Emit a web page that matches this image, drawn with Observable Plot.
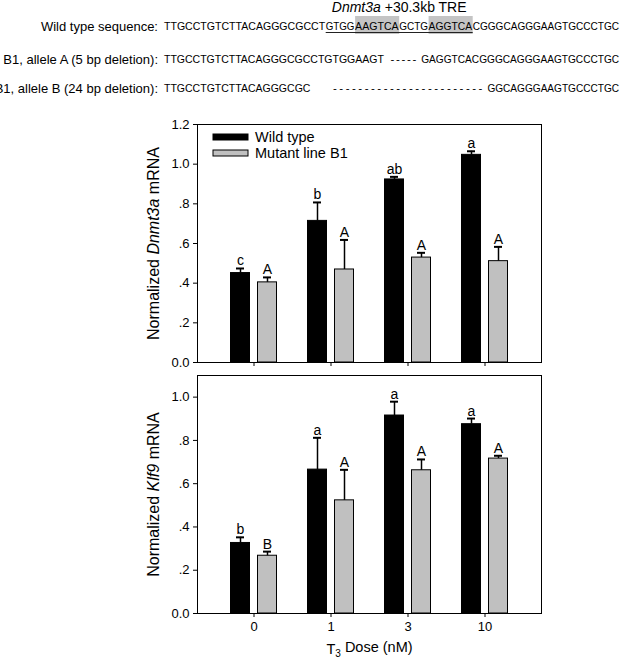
<!DOCTYPE html>
<html>
<head>
<meta charset="utf-8">
<script src="https://cdn.jsdelivr.net/npm/d3@7"></script>
<script src="https://cdn.jsdelivr.net/npm/@observablehq/plot@0.6"></script>
<style>
  body { margin: 0; background: #fff; width: 625px; }
  svg { display: block; }
</style>
</head>
<body>
<div id="chart"></div>
<script>
// ---------- data ----------
const doses = ["0", "1", "3", "10"];
const seriesNames = ["Wild type", "Mutant line B1"];

// Dnmt3a (top panel): means and SEM
const dnmtWT = [0.451, 0.714, 0.923, 1.047];
const dnmtWTErr = [0.023, 0.093, 0.013, 0.018];
const dnmtMut = [0.404, 0.469, 0.529, 0.511];
const dnmtMutErr = [0.025, 0.149, 0.024, 0.072];
const dnmtWTLetters = ["c", "b", "ab", "a"];
const dnmtMutLetters = ["A", "A", "A", "A"];

// Klf9 (bottom panel)
const klfWT = [0.326, 0.665, 0.915, 0.875];
const klfWTErr = [0.026, 0.147, 0.064, 0.026];
const klfMut = [0.267, 0.523, 0.662, 0.716];
const klfMutErr = [0.019, 0.141, 0.050, 0.013];
const klfWTLetters = ["b", "a", "a", "a"];
const klfMutLetters = ["B", "A", "A", "A"];

const yTicksTop = [0, 0.2, 0.4, 0.6, 0.8, 1.0, 1.2];
const yTicksBottom = [0, 0.2, 0.4, 0.6, 0.8, 1.0];

// sequences
const headerGene = "Dnmt3a";
const headerRest = " +30.3kb TRE";
const rowLabels = ["Wild type sequence:", "B1, allele A (5 bp deletion):", "B1, allele B (24 bp deletion):"];
const wtSequence      = "TTGCCTGTCTTACAGGGCGCCTGTGGAAGTCAGCTGAGGTCACGGGCAGGGAAGTGCCCTGC";
const alleleASequence = "TTGCCTGTCTTACAGGGCGCCTGTGGAAGT-----GAGGTCACGGGCAGGGAAGTGCCCTGC";
const alleleBSequence = "TTGCCTGTCTTACAGGGCGC------------------------GGCAGGGAAGTGCCCTGC";
const treSpan = [22, 42];
const halfSites = [[26, 32], [36, 42]];

// ---------- styles ----------
const FONT = "'Liberation Sans', Arial, Helvetica, sans-serif";
const W = 625;
const root = d3.select("#chart");

// ---------- header (sequence alignment) ----------
(function header() {
  const H = 100, x0 = 164, cw = 7.35, rowY = [26, 59, 88], fs = 11.5;
  const svg = d3.create("svg").attr("width", W).attr("height", H)
    .style("font-family", FONT).style("background", "#fff");
  const xc = i => x0 + i * cw;

  // title
  const t = svg.append("text").attr("x", xc((treSpan[0] + treSpan[1]) / 2)).attr("y", 7)
    .attr("dy", "0.35em").attr("text-anchor", "middle").attr("font-size", 14);
  t.append("tspan").attr("font-style", "italic").text(headerGene);
  t.append("tspan").text(headerRest);

  // highlights
  halfSites.forEach(([a, b]) => {
    svg.append("rect").attr("x", xc(a)).attr("width", (b - a) * cw)
      .attr("y", rowY[0] - 10).attr("height", 18).attr("fill", "#c4c4c4");
  });
  // underline of TRE
  svg.append("line").attr("x1", xc(treSpan[0])).attr("x2", xc(treSpan[1]))
    .attr("y1", rowY[0] + 6.5).attr("y2", rowY[0] + 6.5).attr("stroke", "#222").attr("stroke-width", 1);

  function drawSeq(seq, y, breaks) {
    const cuts = new Set([0, seq.length, ...breaks]);
    for (let i = 1; i < seq.length; i++) if ((seq[i] === "-") !== (seq[i - 1] === "-")) cuts.add(i);
    const c = [...cuts].sort((a, b) => a - b);
    for (let k = 0; k < c.length - 1; k++) {
      const a = c[k], b = c[k + 1];
      const s = seq.slice(a, b);
      if (s[0] === "-") {
        const n = b - a;
        const left = n > 10 ? 22 : 6, right = 5;
        svg.append("text").attr("x", xc(a) + left).attr("y", y).attr("dy", "0.35em")
          .attr("font-size", fs).attr("textLength", (b - a) * cw - left - right)
          .attr("lengthAdjust", "spacing").text(Array(n).fill("-").join(" "));
      } else {
        svg.append("text").attr("x", xc(a)).attr("y", y).attr("dy", "0.35em")
          .attr("font-size", fs).attr("textLength", (b - a) * cw - 0.6)
          .attr("lengthAdjust", "spacingAndGlyphs").text(s);
      }
    }
  }
  const seqs = [wtSequence, alleleASequence, alleleBSequence];
  seqs.forEach((s, i) => {
    svg.append("text").attr("x", 158).attr("y", rowY[i]).attr("dy", "0.35em")
      .attr("text-anchor", "end").attr("font-size", 13).text(rowLabels[i]);
    drawSeq(s, rowY[i], i === 0 ? [treSpan[0], halfSites[0][0], halfSites[0][1], halfSites[1][0], halfSites[1][1]] : []);
  });
  root.node().appendChild(svg.node());
})();

// ---------- panels ----------
const fmt = d => (d > 0 && d < 1) ? d.toFixed(1).slice(1) : d.toFixed(1);

function panel(o) {
  const rows = doses.map((d, i) => ({
    dose: d,
    wt: o.wt[i], wtTop: o.wt[i] + o.wtErr[i], wtLetter: o.wtLetters[i],
    mut: o.mut[i], mutTop: o.mut[i] + o.mutErr[i], mutLetter: o.mutLetters[i]
  }));
  const off = 13.5;
  const chart = Plot.plot({
    width: W, height: o.height,
    marginTop: o.marginTop, marginBottom: o.marginBottom, marginLeft: 197, marginRight: 84,
    style: { fontFamily: FONT, fontSize: "13px", color: "black", background: "white", overflow: "visible" },
    x: {
      type: "band", domain: doses, paddingInner: 0.7543, paddingOuter: 0.601,
      label: o.showX ? "T3 Dose (nM)" : null, labelAnchor: "center", labelOffset: 40,
      tickSize: 4, tickPadding: 4, tickFormat: o.showX ? (d => d) : (() => "")
    },
    y: {
      domain: [0, o.yMax], ticks: o.yTicks, tickFormat: fmt, tickSize: 4, tickPadding: 4,
      label: o.yLabel, labelAnchor: "center", labelOffset: 50
    },
    marks: [
      Plot.barY(rows, { x: "dose", y: "wt", fill: "black", stroke: "black", dx: -off }),
      Plot.barY(rows, { x: "dose", y: "mut", fill: "#c0c0c0", stroke: "black", dx: off }),
      Plot.ruleX(rows, { x: "dose", y1: "wt", y2: "wtTop", dx: -off, stroke: "black", strokeWidth: 1.5 }),
      Plot.ruleX(rows, { x: "dose", y1: "mut", y2: "mutTop", dx: off, stroke: "black", strokeWidth: 1.5 }),
      Plot.tickY(rows, { x: "dose", y: "wtTop", dx: -off, insetLeft: 5.5, insetRight: 5.5, stroke: "black", strokeWidth: 2 }),
      Plot.tickY(rows, { x: "dose", y: "mutTop", dx: off, insetLeft: 5.5, insetRight: 5.5, stroke: "black", strokeWidth: 2 }),
      Plot.text(rows, { x: "dose", y: "wtTop", text: "wtLetter", dx: -off, dy: -3, lineAnchor: "bottom", fontSize: 14, fill: "black" }),
      Plot.text(rows, { x: "dose", y: "mutTop", text: "mutLetter", dx: off, dy: -3, lineAnchor: "bottom", fontSize: 14, fill: "black" }),
      Plot.frame({ stroke: "black" })
    ]
  });
  const svg = d3.select(chart);
  // rich-text axis labels
  svg.selectAll("text").each(function () {
    const el = d3.select(this);
    const txt = this.textContent;
    if (txt.includes("Normalized")) {
      el.text(null).attr("font-size", 16);
      el.append("tspan").text("Normalized ");
      el.append("tspan").attr("font-style", "italic").text(o.gene);
      el.append("tspan").text(" mRNA");
    } else if (txt.includes("Dose (nM)")) {
      el.text(null).attr("font-size", 14.5);
      el.append("tspan").text("T");
      el.append("tspan").attr("font-size", 10).attr("dy", "0.3em").text("3");
      el.append("tspan").attr("dy", "-0.3em").text(" Dose (nM)");
    }
  });
  if (o.legend) {
    const g = svg.append("g").attr("font-family", FONT).attr("font-size", 14.5).attr("text-anchor", "start");
    seriesNames.forEach((name, i) => {
      const y = o.marginTop + 13 + i * 16;
      g.append("rect").attr("x", 197 + 16).attr("y", y - 3).attr("width", 35).attr("height", 6)
        .attr("fill", i === 0 ? "black" : "#c0c0c0").attr("stroke", "black");
      g.append("text").attr("x", 197 + 58).attr("y", y).attr("dy", "0.35em")
        .attr("text-anchor", "start").text(name);
    });
  }
  return chart;
}

root.node().appendChild(panel({
  wt: dnmtWT, wtErr: dnmtWTErr, mut: dnmtMut, mutErr: dnmtMutErr,
  wtLetters: dnmtWTLetters, mutLetters: dnmtMutLetters,
  yMax: 1.2, yTicks: yTicksTop, yLabel: "Normalized Dnmt3a mRNA", gene: "Dnmt3a",
  height: 272, marginTop: 24, marginBottom: 10, showX: false, legend: true
}));
root.node().appendChild(panel({
  wt: klfWT, wtErr: klfWTErr, mut: klfMut, mutErr: klfMutErr,
  wtLetters: klfWTLetters, mutLetters: klfMutLetters,
  yMax: 1.1, yTicks: yTicksBottom, yLabel: "Normalized Klf9 mRNA", gene: "Klf9",
  height: 287, marginTop: 3, marginBottom: 46, showX: true, legend: false
}));
</script>
</body>
</html>
